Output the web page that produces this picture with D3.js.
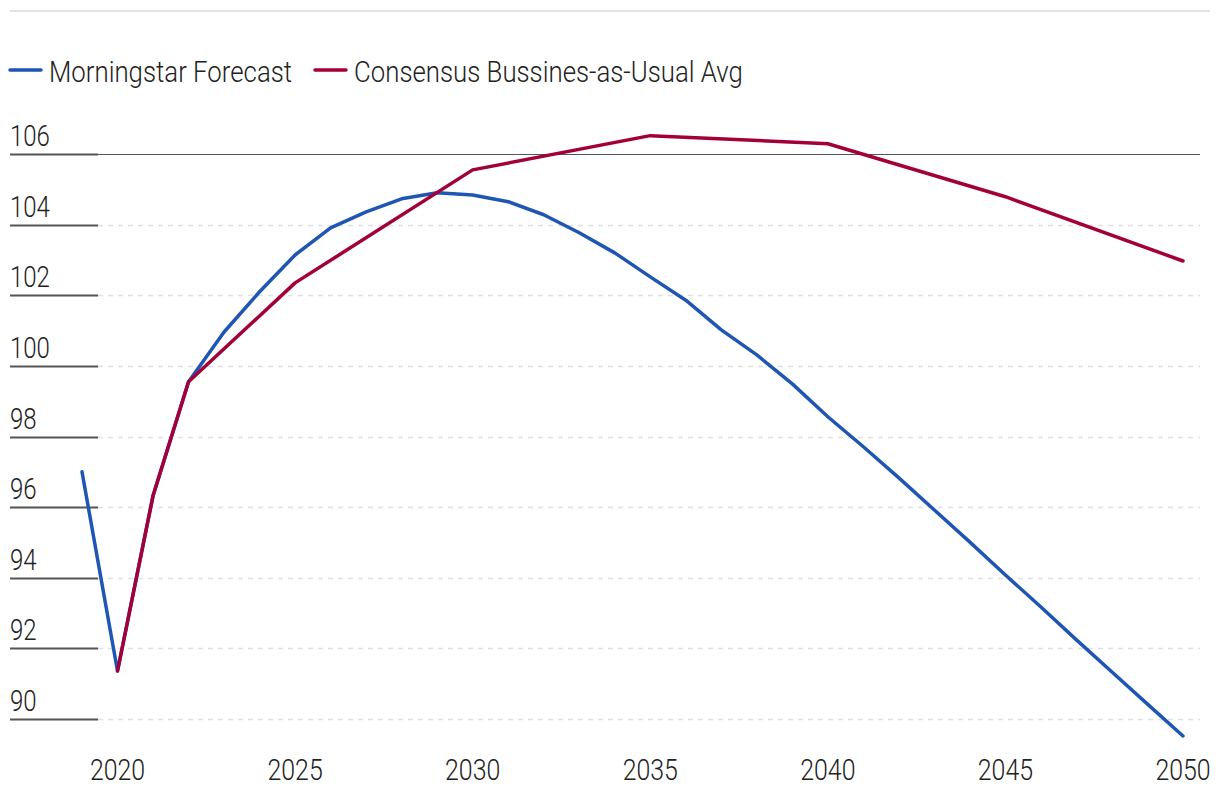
<!DOCTYPE html>
<html>
<head>
<meta charset="utf-8">
<script src="https://cdn.jsdelivr.net/npm/d3@7"></script>
<style>
  html, body { margin: 0; padding: 0; background: #fff; }
  svg text { font-family: Roboto, "Noto Sans", sans-serif; font-weight: 300; fill: #222; }
</style>
</head>
<body>
<svg id="chart" width="1220" height="800"></svg>
<script>
// ---- data ----
const forecastYears = [2019,2020,2021,2022,2023,2024,2025,2026,2027,2028,2029,2030,2031,2032,2033,2034,2035,2036,2037,2038,2039,2040,2041,2042,2043,2044,2045,2046,2047,2048,2049,2050];
const forecastValues = [97.0,91.36,96.32,99.55,100.96,102.10,103.14,103.91,104.36,104.73,104.90,104.84,104.65,104.28,103.77,103.20,102.52,101.86,101.02,100.31,99.49,98.56,97.71,96.83,95.92,95.01,94.08,93.17,92.24,91.33,90.42,89.52];
const consensusYears = [2020,2021,2022,2025,2030,2035,2040,2045,2050];
const consensusValues = [91.36,96.32,99.55,102.35,105.55,106.52,106.29,104.79,102.97];
const yTicks = [90,92,94,96,98,100,102,104,106];
const xTicks = [2020,2025,2030,2035,2040,2045,2050];
const seriesNames = ["Morningstar Forecast","Consensus Bussines-as-Usual Avg"];
const seriesColors = ["#1f56b4","#a3003b"];

const svg = d3.select("#chart");
const x = d3.scaleLinear().domain([2019, 2050]).range([82, 1183]);
const y = d3.scaleLinear().domain([90, 106]).range([719, 154]);
// horizontal squeeze factors to mimic the condensed face
const SQY = 0.8, SQX = 0.83, SQL = 0.86;

// top rule
svg.append("line").attr("x1",10).attr("x2",1210).attr("y1",11).attr("y2",11)
  .attr("stroke","#e3e3e3").attr("stroke-width",2);

// gridlines
const grid = svg.append("g");
yTicks.forEach(t => {
  const yy = Math.round(y(t)) + 0.5;
  if (t === 106) {
    grid.append("line").attr("x1",98).attr("x2",1200).attr("y1",yy).attr("y2",yy)
      .attr("stroke","#555").attr("stroke-width",1);
  } else {
    grid.append("line").attr("x1",98).attr("x2",1200).attr("y1",yy).attr("y2",yy)
      .attr("stroke","#e0e0e0").attr("stroke-width",1.5).attr("stroke-dasharray","5,5");
  }
  grid.append("line").attr("x1",10).attr("x2",98).attr("y1",yy).attr("y2",yy)
    .attr("stroke","#555").attr("stroke-width",2);
  grid.append("text").attr("transform", `translate(10,${yy - 9}) scale(${SQY},1)`)
    .attr("font-size",30).text(t);
});

// x axis labels
svg.append("g").selectAll("text").data(xTicks).join("text")
  .attr("transform", d => `translate(${x(d)},780) scale(${SQX},1)`)
  .attr("text-anchor","middle")
  .attr("font-size",30).text(d => d);

// lines
const line = d3.line().x(d => x(d[0])).y(d => y(d[1]));
const fData = forecastYears.map((yr,i) => [yr, forecastValues[i]]);
const cData = consensusYears.map((yr,i) => [yr, consensusValues[i]]);
svg.append("path").datum(fData).attr("d", line).attr("fill","none")
  .attr("stroke", seriesColors[0]).attr("stroke-width",3.5).attr("stroke-linejoin","round").attr("stroke-linecap","round");
svg.append("path").datum(cData).attr("d", line).attr("fill","none")
  .attr("stroke", seriesColors[1]).attr("stroke-width",3.5).attr("stroke-linejoin","round").attr("stroke-linecap","round");

// legend
const legendX = [10, 315];
seriesNames.forEach((name, i) => {
  svg.append("line").attr("x1", legendX[i]).attr("x2", legendX[i] + 31).attr("y1", 70).attr("y2", 70)
    .attr("stroke", seriesColors[i]).attr("stroke-width", 3.5).attr("stroke-linecap","round");
  svg.append("text").attr("transform", `translate(${legendX[i] + 39},82) scale(${SQL},1)`)
    .attr("font-size", 30).text(name);
});
</script>
</body>
</html>
